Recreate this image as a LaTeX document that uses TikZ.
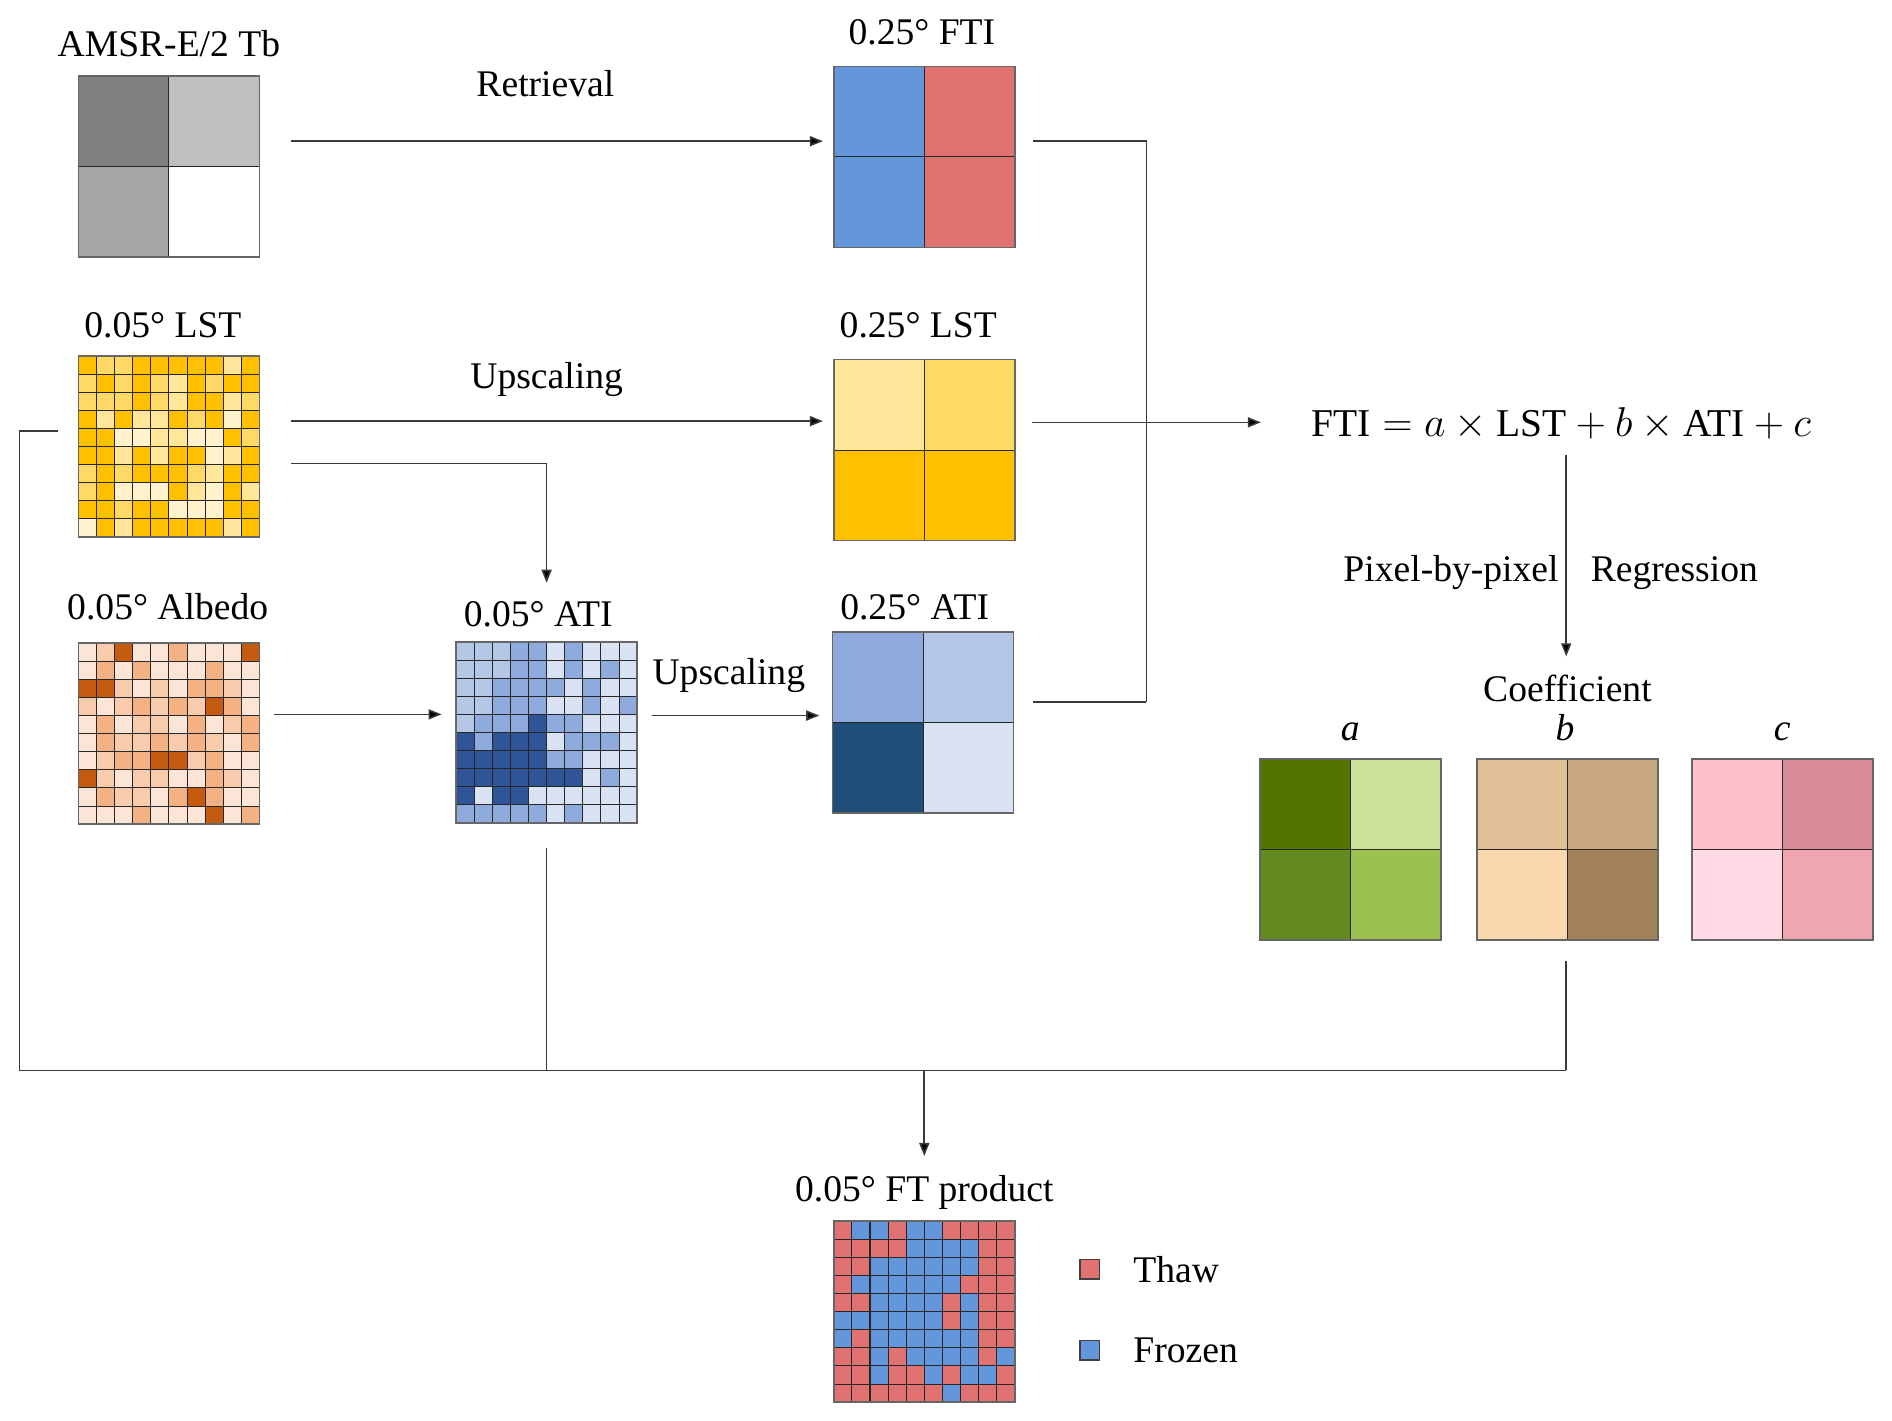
\documentclass[tikz,border=0pt]{standalone}
\usepackage{fontspec}
\setmainfont{Liberation Serif}
\usetikzlibrary{arrows.meta}
% LST 0.05
\definecolor{lst0}{HTML}{FFC000}
\definecolor{lst1}{HTML}{FFD966}
\definecolor{lst2}{HTML}{FFE699}
\definecolor{lst3}{HTML}{FFF2CC}
% Albedo
\definecolor{alb0}{HTML}{FBE5D6}
\definecolor{alb1}{HTML}{F8CBAD}
\definecolor{alb2}{HTML}{F4B183}
\definecolor{alb3}{HTML}{C55A11}
% ATI 0.05
\definecolor{ati0}{HTML}{DAE3F3}
\definecolor{ati1}{HTML}{B4C7E7}
\definecolor{ati2}{HTML}{8FAADC}
\definecolor{ati3}{HTML}{2F5597}
% FT
\definecolor{ftR}{HTML}{E07272}
\definecolor{ftB}{HTML}{6496DC}
\definecolor{linec}{HTML}{3A3A3A}
\definecolor{atiD}{HTML}{1F4E79}
\definecolor{ga}{HTML}{527500}
\definecolor{gb}{HTML}{CCE29B}
\definecolor{gc}{HTML}{638A1E}
\definecolor{gd}{HTML}{9DC150}
\definecolor{ba}{HTML}{DFC097}
\definecolor{bb}{HTML}{C6A77F}
\definecolor{bc}{HTML}{F8D8AC}
\definecolor{bd}{HTML}{A2825A}
\definecolor{pa}{HTML}{FFC0CB}
\definecolor{pb}{HTML}{D88C98}
\definecolor{pc}{HTML}{FFDCE5}
\definecolor{pd}{HTML}{F0A6B0}

\newcommand{\tengrid}[5]{%
  \foreach \row [count=\r] in {#5} {
    \foreach \v [count=\c] in \row {
      \fill[#4\v] ({#2+(\c-1)*15},{#3+(\r-1)*15}) rectangle ++(15,15);
    }
  }
  \foreach \i in {1,...,9} {
    \draw[cellline] ({#2+\i*15},#3) -- ++(0,150);
    \draw[cellline] (#2,{#3+\i*15}) -- ++(150,0);
  }
  \node[gridframe] (#1) at ({#2+75},{#3+75}) {};
}
\newcommand{\twogrid}[7]{%
  \fill[fill=#4] (#2,#3) rectangle ++(75,75);
  \fill[fill=#5] ({#2+75},#3) rectangle ++(75,75);
  \fill[fill=#6] (#2,{#3+75}) rectangle ++(75,75);
  \fill[fill=#7] ({#2+75},{#3+75}) rectangle ++(75,75);
  \draw[cellline] ({#2+75},#3) -- ++(0,150);
  \draw[cellline] (#2,{#3+75}) -- ++(150,0);
  \node[gridframe] (#1) at ({#2+75},{#3+75}) {};
}

\begin{document}
\begin{tikzpicture}[x=0.6pt,y=-0.6pt,
  cellline/.style={draw=black!85,line width=0.5pt},
  gridframe/.style={draw=black!60,line width=0.8pt,minimum size=90pt,inner sep=0pt,outer sep=0pt},
  lbl/.style={font=\fontsize{18.7}{22}\selectfont,inner sep=0pt,anchor=base},
  conn/.style={draw=linec,line width=0.8pt},
  arr/.style={conn,-{Triangle[length=6.5pt,width=5pt,fill=black]}},
  legbox/.style={draw=black!75,line width=0.6pt,minimum size=9.6pt,inner sep=0pt}]
\useasboundingbox (0,0) rectangle (1568,1177.6);

% ---------- grids ----------
\twogrid{amsr}{65}{63}{black!50}{black!25}{black!35}{white}
\twogrid{fti}{691}{55}{ftB}{ftR}{ftB}{ftR}
\twogrid{lstq}{691}{298}{lst2}{lst1}{lst0}{lst0}
\twogrid{atiq}{690}{524}{ati2}{ati1}{atiD}{ati0}
\twogrid{ca}{1044}{629}{ga}{gb}{gc}{gd}
\twogrid{cb}{1224}{629}{ba}{bb}{bc}{bd}
\twogrid{cc}{1402}{629}{pa}{pb}{pc}{pd}

\tengrid{lst}{65}{295}{lst}{
{0,1,1,0,0,0,0,0,2,0},
{1,0,1,0,1,2,0,1,0,0},
{1,1,1,0,1,2,0,0,2,1},
{0,2,0,2,2,0,1,0,3,0},
{0,0,3,3,2,2,3,3,0,1},
{0,0,2,0,2,0,0,3,2,0},
{1,0,1,0,0,0,1,2,0,0},
{1,0,3,3,3,0,2,3,0,2},
{0,0,1,0,0,3,3,3,0,0},
{3,0,2,0,0,0,0,0,2,0}}

\tengrid{alb}{65}{533}{alb}{
{0,1,3,0,0,2,0,0,0,3},
{0,2,0,2,0,0,0,2,0,0},
{3,3,1,0,1,0,2,2,1,0},
{1,0,1,2,1,2,1,3,2,0},
{0,2,0,1,1,0,2,0,1,2},
{0,2,1,1,2,1,2,1,0,2},
{0,1,2,2,3,3,1,2,0,0},
{3,1,0,1,1,0,0,2,1,0},
{0,2,1,1,0,2,3,2,0,0},
{0,0,0,2,0,0,0,3,0,2}}

\tengrid{ati}{378}{532}{ati}{
{1,1,1,2,2,0,2,0,0,0},
{1,1,1,2,2,0,2,0,2,0},
{1,1,2,2,2,2,0,2,0,0},
{1,1,2,2,2,0,0,2,0,2},
{1,2,2,2,3,2,2,0,0,0},
{3,2,3,3,3,0,2,2,2,0},
{3,3,3,3,3,2,2,0,0,0},
{3,3,3,3,3,3,3,0,2,0},
{3,0,3,3,0,0,0,0,0,0},
{2,2,2,2,2,0,2,0,0,0}}

\tengrid{ft}{691}{1012}{ft}{
{R,B,B,R,B,B,R,R,R,R},
{R,R,R,R,B,B,B,B,R,R},
{R,R,B,B,B,B,B,B,R,R},
{R,B,B,B,B,B,B,R,R,R},
{R,R,B,B,B,B,R,B,R,R},
{B,B,B,B,B,B,R,B,R,R},
{B,R,B,B,B,B,B,B,R,R},
{R,R,B,R,B,B,B,B,R,B},
{R,R,B,R,R,B,R,B,B,R},
{R,R,R,R,R,R,B,R,R,R}}

% ---------- labels ----------
\node[lbl] (tAmsr) at (140,47) {AMSR-E/2 Tb};
\node[lbl] (tRet) at (452,80) {Retrieval};
\node[lbl] (tFti) at (764,37) {0.25° FTI};
\node[lbl] (tLst) at (135,280) {0.05° LST};
\node[lbl] (tUp1) at (453,322) {Upscaling};
\node[lbl] (tLstq) at (761,280) {0.25° LST};
\node[lbl] (tAlb) at (139,513) {0.05° Albedo};
\node[lbl] (tAti) at (446,519) {0.05° ATI};
\node[lbl] (tUp2) at (604,567) {Upscaling};
\node[lbl] (tAtiq) at (758,513) {0.25° ATI};
\node[lbl,font=\fontsize{19.6}{23}\selectfont] (eq) at (1294,362)
  {FTI${}={}$$a$${}\times{}$LST${}+{}$$b$${}\times{}$ATI${}+{}$$c$};
\node[lbl,anchor=base east] (tPix) at (1292,482) {Pixel-by-pixel};
\node[lbl,anchor=base west] (tReg) at (1318,482) {Regression};
\node[lbl] (tCoef) at (1299,581) {Coefficient};
\node[lbl] (tA) at (1119,614) {\textit{a}};
\node[lbl] (tB) at (1297,614) {\textit{b}};
\node[lbl] (tC) at (1477,614) {\textit{c}};
\node[lbl] (tFt) at (766,996) {0.05° FT product};
\node[legbox,fill=ftR] (lgThaw) at (903,1052) {};
\node[legbox,fill=ftB] (lgFroz) at (903,1119) {};
\node[lbl,anchor=base west] (tThaw) at (939,1063) {Thaw};
\node[lbl,anchor=base west] (tFroz) at (939,1129) {Frozen};

% ---------- connector coordinates ----------
\coordinate (retS) at (241,117);
\coordinate (retE) at (682,117);
\coordinate (ftiO) at (856,117);
\coordinate (jTop) at (950,117);
\coordinate (jBot) at (950,582);
\coordinate (atiqO) at (856,582);
\coordinate (lstqO) at (855,350);
\coordinate (eqIn) at (1045,350);
\coordinate (upS) at (241,349);
\coordinate (upE) at (682,349);
\coordinate (l2aS) at (241,384);
\coordinate (l2aC) at (453,384);
\coordinate (l2aE) at (453,483);
\coordinate (albS) at (227,592);
\coordinate (albE) at (366,592);
\coordinate (up2S) at (540,593);
\coordinate (up2E) at (679,593);
\coordinate (eqS) at (1298,377);
\coordinate (eqE) at (1298,544);
\coordinate (lftS) at (48,357);
\coordinate (lftC) at (16,357);
\coordinate (lftB) at (16,887);
\coordinate (busR) at (1298,887);
\coordinate (atiDn) at (453,703);
\coordinate (atiB) at (453,887);
\coordinate (cbD) at (1298,796);
\coordinate (ftS) at (766,887);
\coordinate (ftE) at (766,958);

% ---------- connectors ----------
\draw[arr] (retS) -- (retE);
\draw[conn] (ftiO) -- (jTop) -- (jBot);
\draw[conn] (atiqO) -- (jBot);
\draw[arr] (lstqO) -- (eqIn);
\draw[arr] (upS) -- (upE);
\draw[arr] (l2aS) -- (l2aC) -- (l2aE);
\draw[arr] (albS) -- (albE);
\draw[arr] (up2S) -- (up2E);
\draw[arr] (eqS) -- (eqE);
\draw[conn] (lftS) -- (lftC) -- (lftB) -- (busR);
\draw[conn] (atiDn) -- (atiB);
\draw[conn] (cbD) -- (busR);
\draw[arr] (ftS) -- (ftE);
\end{tikzpicture}
\end{document}
